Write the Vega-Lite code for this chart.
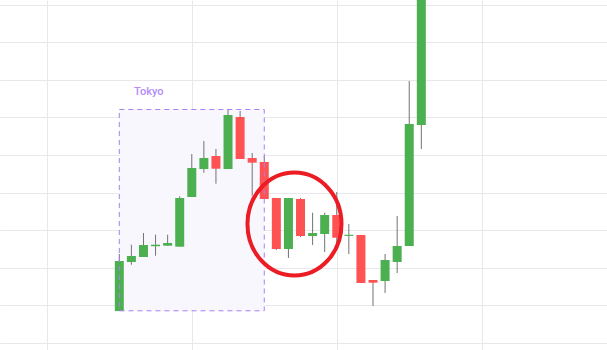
{
  "$schema": "https://vega.github.io/schema/vega-lite/v6.json",
  "width": 607,
  "height": 350,
  "padding": 0,
  "autosize": {"type": "fit", "contains": "padding"},
  "background": "#ffffff",
  "config": {"view": {"stroke": null}},
  "datasets": {
    "candles": [
      {"i": 0, "open": 108.44, "high": 123.62, "low": 108.4, "close": 121.76},
      {"i": 1, "open": 121.49, "high": 126.10, "low": 120.77, "close": 123.09},
      {"i": 2, "open": 122.82, "high": 129.21, "low": 122.82, "close": 126.02},
      {"i": 3, "open": 125.70, "high": 128.76, "low": 123.17, "close": 126.10},
      {"i": 4, "open": 125.83, "high": 128.76, "low": 125.83, "close": 126.55},
      {"i": 5, "open": 125.57, "high": 138.99, "low": 125.57, "close": 138.54},
      {"i": 6, "open": 138.80, "high": 150.25, "low": 138.80, "close": 146.52},
      {"i": 7, "open": 146.26, "high": 153.72, "low": 145.27, "close": 149.19},
      {"i": 8, "open": 149.72, "high": 151.58, "low": 142.34, "close": 146.34},
      {"i": 9, "open": 146.26, "high": 162.24, "low": 146.26, "close": 160.64},
      {"i": 10, "open": 160.11, "high": 161.70, "low": 148.92, "close": 148.92},
      {"i": 11, "open": 149.19, "high": 150.52, "low": 139.15, "close": 147.94},
      {"i": 12, "open": 148.12, "high": 149.80, "low": 138.27, "close": 138.27},
      {"i": 13, "open": 138.54, "high": 138.54, "low": 124.69, "close": 124.95},
      {"i": 14, "open": 124.95, "high": 138.54, "low": 122.56, "close": 138.54},
      {"i": 15, "open": 138.27, "high": 138.54, "low": 128.15, "close": 128.42},
      {"i": 16, "open": 128.42, "high": 134.62, "low": 126.02, "close": 129.21},
      {"i": 17, "open": 128.95, "high": 134.62, "low": 124.15, "close": 134.01},
      {"i": 18, "open": 134.01, "high": 140.13, "low": 126.5, "close": 127.96},
      {"i": 19, "open": 128.45, "high": 131.61, "low": 123.62, "close": 128.75},
      {"i": 20, "open": 128.68, "high": 128.68, "low": 115.90, "close": 115.90},
      {"i": 21, "open": 116.70, "high": 116.70, "low": 109.77, "close": 115.98},
      {"i": 22, "open": 116.43, "high": 123.62, "low": 113.24, "close": 122.02},
      {"i": 23, "open": 121.49, "high": 133.74, "low": 118.56, "close": 125.75},
      {"i": 24, "open": 125.75, "high": 169.69, "low": 125.75, "close": 158.24},
      {"i": 25, "open": 157.98, "high": 205.0, "low": 151.58, "close": 199.0}
    ],
    "session": [
      {"start": 0, "end": 12, "bottom": 108.5, "top": 162.1, "label": "Tokyo", "lx": 1.22, "ly": 165.9}
    ],
    "marker": [
      {"i": 14.5, "price": 131.6}
    ]
  },
  "layer": [
    {
      "data": {"name": "session"},
      "mark": {"type": "rect", "fill": "#f8f7fe", "stroke": null},
      "encoding": {
        "x": {"field": "start", "type": "quantitative",
          "scale": {"domain": [-9.876, 40.37], "nice": false, "zero": false, "padding": 0},
          "axis": {"title": null, "labels": false, "ticks": false, "domain": false, "grid": true, "values": [-6, 6, 18, 30], "gridColor": "#e8e8ec", "gridWidth": 1}},
        "x2": {"field": "end"},
        "y": {"field": "bottom", "type": "quantitative",
          "scale": {"domain": [98.056, 191.265], "nice": false, "zero": false, "padding": 0},
          "axis": {"title": null, "labels": false, "ticks": false, "domain": false, "grid": true, "tickCount": 10, "values": [100, 110, 120, 130, 140, 150, 160, 170, 180, 190], "gridColor": "#e8e8ec", "gridWidth": 1}},
        "y2": {"field": "top"}
      }
    },
    {
      "data": {"name": "candles"},
      "mark": {"type": "rule", "color": "#737373", "strokeWidth": 1, "clip": true},
      "encoding": {
        "x": {"field": "i", "type": "quantitative"},
        "y": {"field": "low", "type": "quantitative"},
        "y2": {"field": "high"}
      }
    },
    {
      "data": {"name": "candles"},
      "mark": {"type": "bar", "width": 9, "clip": true},
      "encoding": {
        "x": {"field": "i", "type": "quantitative"},
        "y": {"field": "open", "type": "quantitative"},
        "y2": {"field": "close"},
        "color": {"condition": {"test": "datum.close >= datum.open", "value": "#4caf50"}, "value": "#ff5252"}
      }
    },
    {
      "data": {"name": "session"},
      "mark": {"type": "rect", "fill": null, "fillOpacity": 0, "stroke": "#a87ff5", "strokeWidth": 1, "strokeDash": [5, 4]},
      "encoding": {
        "x": {"field": "start", "type": "quantitative"},
        "x2": {"field": "end"},
        "y": {"field": "bottom", "type": "quantitative"},
        "y2": {"field": "top"}
      }
    },
    {
      "data": {"name": "session"},
      "mark": {"type": "text", "align": "left", "baseline": "alphabetic", "font": "Roboto", "fontSize": 11, "fontWeight": 500, "color": "#b48cf7"},
      "encoding": {
        "x": {"field": "lx", "type": "quantitative"},
        "y": {"field": "ly", "type": "quantitative"},
        "text": {"field": "label"}
      }
    },
    {
      "data": {"name": "marker"},
      "mark": {"type": "point", "shape": "M -0.913,0 A 0.913,1 0 1,1 0.913,0 A 0.913,1 0 1,1 -0.913,0 Z", "size": 10609, "filled": false, "stroke": "#ec1c24", "strokeWidth": 4, "opacity": 1},
      "encoding": {
        "x": {"field": "i", "type": "quantitative"},
        "y": {"field": "price", "type": "quantitative"}
      }
    }
  ]
}
